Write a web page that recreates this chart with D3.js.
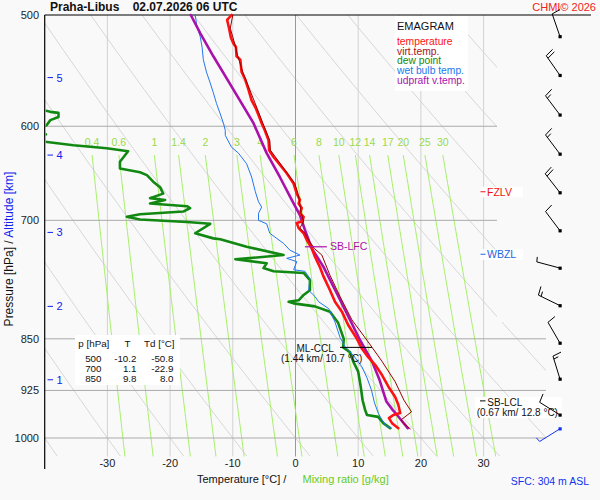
<!DOCTYPE html>
<html>
<head>
<meta charset="utf-8">
<script src="https://cdn.jsdelivr.net/npm/d3@7"></script>
<style>
  body { margin: 0; background: #f9f9f9; }
  svg { display: block; font-family: "Liberation Sans", Arial, sans-serif; }
</style>
</head>
<body>
<svg id="chart" width="600" height="500"></svg>
<script>
const pressureTicks = [500, 600, 700, 850, 925, 1000];
const tempTicks = [-30, -20, -10, 0, 10, 20, 30];
const dryAdiabats = [-40, -30, -20, -10, 0, 10, 20, 30, 40, 50, 60, 70, 80, 90, 100]; // T at 1000 hPa
const mixingRatios = [0.4, 0.6, 1, 1.4, 2, 3, 4, 6, 8, 10, 12, 14, 17, 20, 25, 30];
const altitudeKm = [1, 2, 3, 4, 5];
const altitudeP = [909, 806, 714, 629, 554];

// [pressure hPa, temperature C]
const temperature = [[500,-10.2],[504,-10.9],[511,-10.6],[519,-10.3],[524,-9.9],[527,-9.5],[535,-9.4],[538,-8.8],[549,-8.6],[556,-8.0],[565,-7.5],[575,-7.0],[583,-6.3],[589,-5.9],[597,-5.4],[604,-4.9],[614,-4.3],[624,-4.2],[631,-3.5],[639,-2.5],[648,-1.4],[659,-0.3],[670,0.2],[677,0.7],[681,0.5],[686,1.0],[692,0.7],[696,1.3],[701,1.1],[703,0.2],[709,0.5],[715,1.3],[723,1.8],[733,2.6],[743,3.1],[756,3.9],[768,4.5],[785,5.5],[800,6.3],[813,7.4],[831,8.4],[850,9.8],[864,10.6],[876,11.6],[887,12.7],[902,13.8],[919,14.8],[935,15.9],[947,16.4],[960,16.7],[963,15.6],[968,14.9],[976,15.4],[984,16.4]];
const virtTemp = [[500,-10.0],[511,-10.4],[524,-9.7],[535,-9.2],[549,-8.4],[565,-7.3],[583,-6.1],[597,-5.2],[614,-4.1],[624,-4.0],[639,-2.3],[659,-0.1],[670,0.4],[681,0.7],[692,0.9],[701,1.3],[709,0.7],[715,1.5],[723,2.1],[733,3.0],[741,4.2],[766,5.5],[793,7.1],[824,9.0],[852,11.4],[882,13.8],[912,15.9],[940,17.3],[958,18.5],[971,16.8],[977,17.3],[985,18.3]];
const dewPoint = [[500,-50.8],[560,-48],[580,-43],[586,-39.1],[587,-37.8],[591,-37.8],[594,-39.1],[599,-39.7],[603,-41.5],[608,-39.8],[612,-41.5],[615,-40.5],[619,-35.4],[622,-30.1],[625,-26.7],[636,-28.0],[643,-28.0],[647,-24.8],[650,-23.7],[657,-22.7],[663,-21.6],[670,-21.1],[675,-23.2],[677,-20.8],[681,-23.2],[684,-17.3],[686,-16.8],[690,-17.9],[693,-24.8],[696,-26.9],[699,-24.8],[702,-17.3],[704,-13.6],[715,-16.0],[721,-13.1],[722,-12.0],[731,-7.8],[741,-1.9],[745,-7.8],[746,-9.6],[751,-4.6],[757,-5.1],[761,-3.5],[763,1.3],[772,2.3],[785,2.3],[791,1.3],[798,0.5],[800,-1.1],[802,-0.3],[806,3.1],[813,5.5],[828,6.8],[850,7.7],[862,7.6],[869,8.7],[882,9.2],[897,10.0],[919,10.4],[940,10.7],[955,11.1],[963,11.4],[966,13.2],[976,14.0],[984,15.1]];
const wetBulb = [[500,-16.0],[510,-15.7],[518,-15.2],[527,-14.9],[538,-14.7],[549,-14.2],[559,-13.6],[568,-13.1],[578,-12.6],[588,-12.0],[597,-11.5],[604,-11.2],[609,-11.2],[621,-10.2],[627,-9.1],[638,-7.8],[652,-7.0],[668,-6.4],[679,-5.9],[685,-5.4],[692,-5.9],[700,-5.9],[704,-4.6],[715,-4.1],[727,-1.9],[735,-0.9],[741,0.7],[745,-1.4],[749,0.2],[759,-0.3],[761,1.5],[770,2.3],[785,2.1],[793,3.1],[800,3.7],[809,5.3],[827,6.3],[848,7.1],[861,7.9],[873,9.2],[890,10.6],[906,11.4],[924,12.1],[944,12.6],[960,13.2],[971,13.8],[981,14.5],[984,15.3]];
const updraft = [[500,-16.7],[515,-15.2],[535,-13.1],[565,-9.9],[597,-6.7],[627,-4.6],[652,-2.5],[677,-0.6],[694,0.7],[711,1.5],[733,2.6],[756,4.5],[789,6.6],[824,8.7],[852,10.3],[882,12.2],[909,13.4],[942,14.5],[955,15.5],[963,16.2],[984,17.9]];

const windP = [518, 552, 589, 628, 669, 712, 757, 805, 856, 908, 963, 985];
const windDir = [341, 325, 323, 323, 322, 323, 285, 296, 330, 343, 302, 238];
const windKt = [10, 20, 15, 15, 20, 10, 5, 15, 10, 15, 10, 5];

const tableP = [500, 700, 850];
const tableT = ["-10.2", "1.1", "9.8"];
const tableTd = ["-50.8", "-22.9", "8.0"];

const legendNames = ["temperature", "virt.temp.", "dew point", "wet bulb temp.", "udpraft v.temp."];
const legendColors = ["#ff1111", "#aa1111", "#118811", "#2277ee", "#aa11aa"];

// ---- scales ----
const svg = d3.select("#chart");
svg.append("rect").attr("width", 600).attr("height", 500).attr("fill", "#f9f9f9");

const x = d3.scaleLinear().domain([-40, 40]).range([44.7, 546.3]);
const y = d3.scaleLog().domain([500, 1000]).range([15, 438]);
const pBottom = 1031;
const pAxisEnd = 1052;

const defs = svg.append("defs");
defs.append("clipPath").attr("id", "gridClip")
  .append("polygon")
  .attr("points", [[x(-40), y(500)], [497, y(500)], [497, 322], [546, 322], [546, y(pBottom)], [x(-40), y(pBottom)]].join(" "));
defs.append("clipPath").attr("id", "profClip")
  .append("rect").attr("x", x(-40) + 1).attr("y", 0).attr("width", 560).attr("height", y(pBottom));

const grid = svg.append("g").attr("clip-path", "url(#gridClip)");
const line = d3.line().x(d => x(d[1])).y(d => y(d[0]));

// dry adiabats
const pSteps = d3.range(500, pBottom + 1, 5);
dryAdiabats.forEach(t0 => {
  const pts = pSteps.map(p => [p, (t0 + 273.15) * Math.pow(p / 1000, 0.2857) - 273.15]);
  grid.append("path").attr("d", line(pts))
    .attr("fill", "none").attr("stroke", "#d6d6d6").attr("stroke-width", 1);
});

// isotherms
grid.selectAll(".iso").data(tempTicks).enter().append("line")
  .attr("x1", d => x(d)).attr("x2", d => x(d))
  .attr("y1", y(500)).attr("y2", y(pBottom))
  .attr("stroke", d => d === 0 ? "#999" : "#d2d2d2").attr("stroke-width", 1);

// mixing ratio lines
const dewFromMix = (w, p) => {
  const e = w * p / (622 + w);
  const l = Math.log(e / 6.112);
  return 243.5 * l / (17.67 - l);
};
const pMixTop = 629;
mixingRatios.forEach(w => {
  const pts = d3.range(pMixTop, pBottom + 1, 6).map(p => [p, dewFromMix(w, p)]);
  grid.append("path").attr("d", line(pts))
    .attr("fill", "none").attr("stroke", "#a6ef6a").attr("stroke-width", 1);
});
svg.selectAll(".mixlab").data(mixingRatios).enter().append("text")
  .attr("x", d => x(dewFromMix(d, pMixTop))).attr("y", 146)
  .attr("text-anchor", "middle").attr("font-size", 10.5).attr("fill", "#9ad94a")
  .text(d => String(d));

// pressure lines
grid.selectAll(".pl").data(pressureTicks.slice(1)).enter().append("line")
  .attr("x1", x(-40)).attr("x2", 546)
  .attr("y1", d => y(d)).attr("y2", d => y(d))
  .attr("stroke", "#aaa").attr("stroke-width", 1);

// frame
svg.append("line").attr("x1", x(-40)).attr("x2", 591).attr("y1", y(500)).attr("y2", y(500))
  .attr("stroke", "#000").attr("stroke-width", 1.2);
svg.append("line").attr("x1", x(-40)).attr("x2", x(-40)).attr("y1", y(500)).attr("y2", y(pAxisEnd))
  .attr("stroke", "#000").attr("stroke-width", 1.2);

// axis labels
svg.selectAll(".plab").data(pressureTicks).enter().append("text")
  .attr("x", 39).attr("y", d => y(d) + 4).attr("text-anchor", "end")
  .attr("font-size", 11).attr("fill", "#222").text(d => d);
svg.selectAll(".tlab").data(tempTicks).enter().append("text")
  .attr("x", d => x(d)).attr("y", 467).attr("text-anchor", "middle")
  .attr("font-size", 11).attr("fill", "#222").text(d => String(d));

// altitude ticks
const alt = svg.append("g");
alt.selectAll("line").data(altitudeP).enter().append("line")
  .attr("x1", 47.5).attr("x2", 53).attr("y1", d => y(d)).attr("y2", d => y(d))
  .attr("stroke", "#1122ee").attr("stroke-width", 1);
alt.selectAll("text").data(altitudeP).enter().append("text")
  .attr("x", 56.5).attr("y", d => y(d) + 4).attr("font-size", 11).attr("fill", "#1122ee")
  .text((d, i) => altitudeKm[i]);

// axis titles
const yt = svg.append("text").attr("transform", "translate(12.5,249) rotate(-90)")
  .attr("text-anchor", "middle").attr("font-size", 12);
yt.append("tspan").attr("fill", "#111").text("Pressure [hPa]  /  ");
yt.append("tspan").attr("fill", "#1122ee").text("Altitude [km]");

svg.append("text").attr("x", 197).attr("y", 483).attr("font-size", 11).attr("fill", "#111")
  .text("Temperature [°C]  /");
svg.append("text").attr("x", 302.5).attr("y", 483).attr("font-size", 11).attr("fill", "#66cc22")
  .text("Mixing ratio [g/kg]");
svg.append("text").attr("x", 589).attr("y", 485).attr("text-anchor", "end")
  .attr("font-size", 10.5).attr("fill", "#1133ee").text("SFC: 304 m ASL");

svg.append("text").attr("x", 50).attr("y", 11).attr("font-size", 12).attr("font-weight", "bold")
  .attr("fill", "#111").attr("xml:space", "preserve").style("white-space", "pre")
  .text("Praha-Libus    02.07.2026 06 UTC");
svg.append("text").attr("x", 596).attr("y", 10.5).attr("text-anchor", "end")
  .attr("font-size", 11).attr("fill", "#ee2222").text("CHMI© 2026");

// legend box
const leg = svg.append("g");
leg.append("rect").attr("x", 395).attr("y", 16).attr("width", 73).attr("height", 75).attr("fill", "#fff");
leg.append("text").attr("x", 397).attr("y", 30).attr("font-size", 11).attr("fill", "#111").text("EMAGRAM");
leg.selectAll(".li").data(legendNames).enter().append("text")
  .attr("x", 397).attr("y", (d, i) => 44.7 + i * 9.8).attr("font-size", 10.3)
  .attr("fill", (d, i) => legendColors[i]).text(d => d);

// table box
const tb = svg.append("g").attr("font-size", 9.8).attr("fill", "#111");
tb.append("rect").attr("x", 75).attr("y", 335).attr("width", 105).attr("height", 50).attr("fill", "#fff");
tb.append("text").attr("x", 78.3).attr("y", 347).text("p [hPa]");
tb.append("text").attr("x", 127.5).attr("y", 347).attr("text-anchor", "middle").text("T");
tb.append("text").attr("x", 144).attr("y", 347).text("Td [°C]");
tableP.forEach((p, i) => {
  const yy = 361.5 + i * 10;
  tb.append("text").attr("x", 101.5).attr("y", yy).attr("text-anchor", "end").text(p);
  tb.append("text").attr("x", 136.5).attr("y", yy).attr("text-anchor", "end").text(tableT[i]);
  tb.append("text").attr("x", 173.5).attr("y", yy).attr("text-anchor", "end").text(tableTd[i]);
});

// profiles
const prof = svg.append("g").attr("clip-path", "url(#profClip)")
  .attr("fill", "none").attr("stroke-linejoin", "round").attr("stroke-linecap", "round");
prof.append("path").attr("d", line(dewPoint)).attr("stroke", "#118811").attr("stroke-width", 2.6);
prof.append("path").attr("d", line(wetBulb)).attr("stroke", "#2277ee").attr("stroke-width", 1);
prof.append("path").attr("d", line(updraft)).attr("stroke", "#aa11aa").attr("stroke-width", 2.6);
prof.append("path").attr("d", line(temperature)).attr("stroke", "#ff1111").attr("stroke-width", 2.6);
prof.append("path").attr("d", line(virtTemp)).attr("stroke", "#990000").attr("stroke-width", 1);

// annotations
const lfcP = 731, cclP = 862, lclP = 941, fzlvP = 668, wbzlP = 740;
svg.append("line").attr("x1", x(1.5)).attr("x2", x(5.0)).attr("y1", y(lfcP)).attr("y2", y(lfcP))
  .attr("stroke", "#aa11aa").attr("stroke-width", 1.2);
svg.append("text").attr("x", 330).attr("y", y(lfcP) + 3.5).attr("font-size", 10.5)
  .attr("fill", "#aa11aa").text("SB-LFC");

svg.append("line").attr("x1", x(7.1)).attr("x2", x(12.2)).attr("y1", y(cclP)).attr("y2", y(cclP))
  .attr("stroke", "#000").attr("stroke-width", 1);
svg.append("text").attr("x", 296.5).attr("y", 351.5).attr("font-size", 10).attr("fill", "#111").text("ML-CCL");
svg.append("text").attr("x", 281).attr("y", 361.5).attr("font-size", 10).attr("fill", "#111")
  .text("(1.44 km/ 10.7 °C)");

const tag = (p, label, color) => {
  const g = svg.append("g");
  g.append("rect").attr("x", 480).attr("y", y(p) - 5).attr("width", 43).attr("height", 10.5).attr("fill", "#fff");
  g.append("line").attr("x1", 480.5).attr("x2", 485.5).attr("y1", y(p)).attr("y2", y(p)).attr("stroke", color);
  g.append("text").attr("x", 487).attr("y", y(p) + 4).attr("font-size", 10.5).attr("fill", color).text(label);
};
tag(fzlvP, "FZLV", "#ee1111");
tag(wbzlP, "WBZL", "#2266dd");

const lcl = svg.append("g");
lcl.append("rect").attr("x", 475).attr("y", y(lclP) - 4).attr("width", 87).attr("height", 21).attr("fill", "#fff");
lcl.append("line").attr("x1", 480).attr("x2", 485.5).attr("y1", y(lclP)).attr("y2", y(lclP)).attr("stroke", "#000");
lcl.append("text").attr("x", 487.3).attr("y", y(lclP) + 5).attr("font-size", 10).attr("fill", "#111").text("SB-LCL");
lcl.append("text").attr("x", 476.7).attr("y", y(lclP) + 15).attr("font-size", 10).attr("fill", "#111")
  .text("(0.67 km/ 12.8 °C)");

// wind barbs
const barbs = svg.append("g").attr("fill", "none");
windP.forEach((p, i) => {
  const bx = 560, by = y(p);
  const col = i === windP.length - 1 ? "#1133ee" : "#000";
  const a = windDir[i] * Math.PI / 180;
  const u = [Math.sin(a), -Math.cos(a)];
  const n = [-u[1], u[0]];
  const f = [n[0] * 0.985 + u[0] * 0.17, n[1] * 0.985 + u[1] * 0.17];
  const tx = bx + u[0] * 24, ty = by + u[1] * 24;
  let d = `M${bx},${by}L${tx},${ty}`;
  let kt = windKt[i], s = 0;
  while (kt >= 10) {
    const sx = tx - u[0] * s, sy = ty - u[1] * s;
    d += `M${sx},${sy}l${f[0] * 9},${f[1] * 9}`;
    s += 3; kt -= 10;
  }
  if (kt >= 5) {
    const sx = tx - u[0] * s, sy = ty - u[1] * s;
    d += `M${sx},${sy}l${f[0] * 5},${f[1] * 5}`;
  }
  barbs.append("path").attr("d", d).attr("stroke", col).attr("stroke-width", 1);
  barbs.append("rect").attr("x", bx - 1.5).attr("y", by - 1.5).attr("width", 3.2).attr("height", 3.2)
    .attr("fill", col);
});
</script>
</body>
</html>
